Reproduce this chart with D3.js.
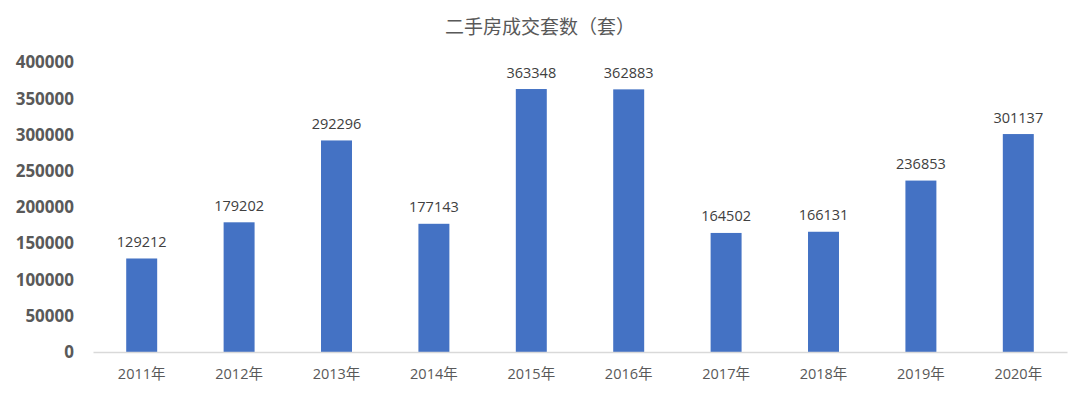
<!DOCTYPE html>
<html><head><meta charset="utf-8">
<script src="https://cdn.jsdelivr.net/npm/d3@7"></script>
<style>body{margin:0;background:#fff;}svg{display:block;}</style>
</head><body>
<script>
const title = "二手房成交套数（套）";
const categories = ["2011年","2012年","2013年","2014年","2015年","2016年","2017年","2018年","2019年","2020年"];
const values = [129212,179202,292296,177143,363348,362883,164502,166131,236853,301137];
const yTicks = [0,50000,100000,150000,200000,250000,300000,350000,400000];

const W = 1080, H = 398;
const svg = d3.select("body").append("svg").attr("width", W).attr("height", H);
const x = d3.scaleBand().domain(categories).range([93, 1067]).padding(0);
const y = d3.scaleLinear().domain([0, 400000]).range([352, 62.5]);
const barW = x.bandwidth() * 0.318;

svg.append("text").attr("x", 540).attr("y", 25).attr("text-anchor", "middle")
  .attr("dominant-baseline", "central")
  .style("font-family", "'Noto Sans CJK SC', sans-serif").style("font-size", "19px")
  .attr("fill", "#595959").text(title);

// y axis labels
const yAxis = d3.axisLeft(y).tickValues(yTicks).tickSize(0).tickPadding(0).tickFormat(d3.format("d"));
const ya = svg.append("g").attr("transform", "translate(74,0)").call(yAxis);
ya.select(".domain").remove();
ya.selectAll("text").style("font-family", "'Open Sans', sans-serif").style("font-size", "17px")
  .style("font-weight", "bold").attr("fill", "#595959");

// bars
svg.selectAll("rect.bar").data(values).enter().append("rect")
  .attr("x", (d, i) => x(categories[i]) + x.bandwidth() / 2 - barW / 2)
  .attr("y", d => y(d)).attr("width", barW).attr("height", d => y(0) - y(d))
  .attr("fill", "#4472C4");

// labels
svg.selectAll("text.lbl").data(values).enter().append("text")
  .attr("x", (d, i) => x(categories[i]) + x.bandwidth() / 2)
  .attr("y", d => y(d) - 17).attr("text-anchor", "middle").attr("dominant-baseline", "central")
  .style("font-family", "'Open Sans', sans-serif").style("font-size", "14.5px")
  .attr("fill", "#404040").text(d => d);

// x axis
const xAxis = d3.axisBottom(x).tickSize(0).tickPadding(0);
const xa = svg.append("g").attr("transform", `translate(0,${y(0)})`).call(xAxis);
xa.select(".domain").attr("stroke", "#d9d9d9").attr("stroke-width", 1.5);
xa.selectAll("text").attr("y", 21).attr("dy", null).attr("dominant-baseline", "central")
  .style("font-family", "'Open Sans', 'Noto Sans CJK SC', sans-serif").style("font-size", "14.5px")
  .attr("fill", "#595959");
</script>
</body></html>
